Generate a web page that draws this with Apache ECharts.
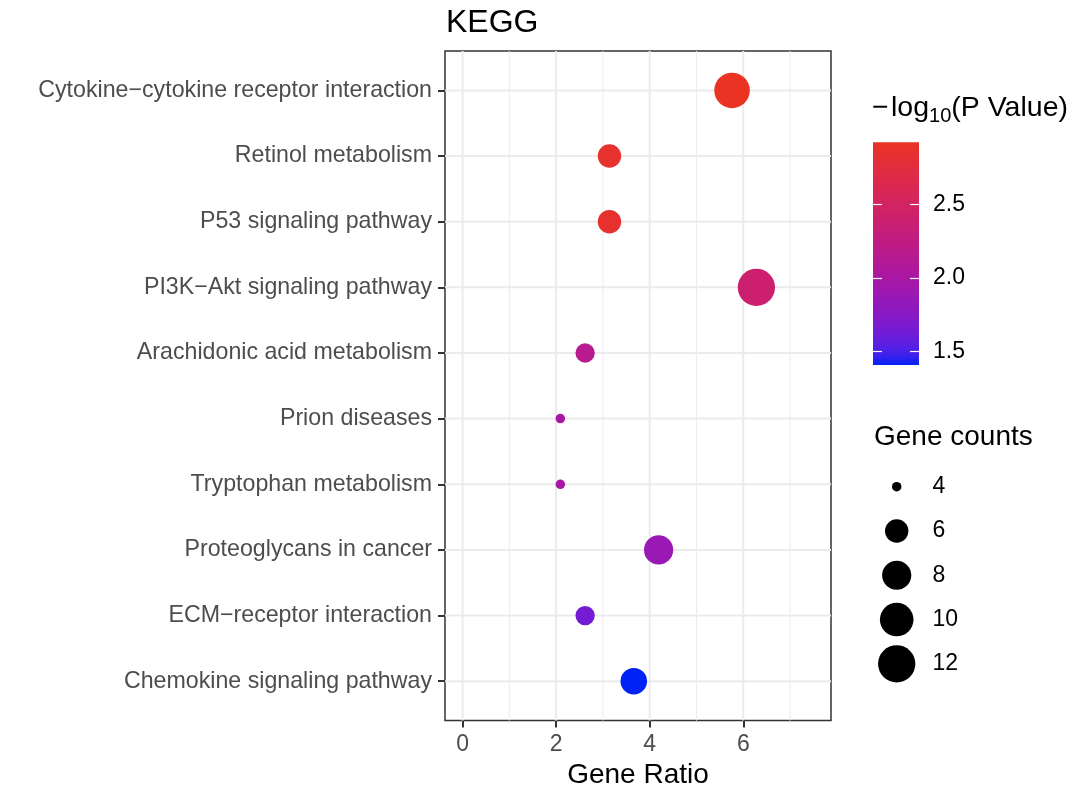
<!DOCTYPE html>
<html>
<head>
<meta charset="utf-8">
<script src="https://cdn.jsdelivr.net/npm/echarts@6/dist/echarts.min.js"></script>
<style>
html,body{margin:0;padding:0;background:#fff;}
#chart{width:1080px;height:794px;}
</style>
</head>
<body>
<div id="chart"></div>
<script>
// ---- data (top to bottom as in the chart) ----
const categories = [
  "Cytokine\u2212cytokine receptor interaction",
  "Retinol metabolism",
  "P53 signaling pathway",
  "PI3K\u2212Akt signaling pathway",
  "Arachidonic acid metabolism",
  "Prion diseases",
  "Tryptophan metabolism",
  "Proteoglycans in cancer",
  "ECM\u2212receptor interaction",
  "Chemokine signaling pathway"
];
const geneRatio  = [5.76, 3.14, 3.14, 6.28, 2.62, 2.09, 2.09, 4.19, 2.62, 3.66];
const geneCounts = [11, 6, 6, 12, 5, 4, 4, 8, 5, 7];
const negLog10P  = [2.92, 2.86, 2.85, 2.40, 2.15, 1.99, 1.99, 1.88, 1.65, 1.41];

const xTicks = [0, 2, 4, 6];
const xMinorTicks = [1, 3, 5, 7];
const colorbarTicks = [1.5, 2.0, 2.5];
const legendCounts = [4, 6, 8, 10, 12];

// ---- styling helpers ----
const F = "'Liberation Sans', Arial, Helvetica, sans-serif";
const LOW = '#0023F5', HIGH = '#EA3323';
const n = categories.length;
const yPos = categories.map((c, i) => n - 1 - i);
const cMin = Math.min(...negLog10P), cMax = Math.max(...negLog10P);
const sMin = Math.min(...legendCounts), sMax = Math.max(...legendCounts);
const dMin = 9.5, dMax = 37.3;
function sizeScale(c) {
  const t = Math.max(0, (c - sMin) / (sMax - sMin));
  return dMin + (dMax - dMin) * Math.sqrt(t);
}
// Lab interpolation (like ggplot's gradient)
function hex2rgb(h){h=h.replace('#','');return [0,2,4].map(k=>parseInt(h.substr(k,2),16));}
function lin(c){c/=255;return c<=0.04045?c/12.92:Math.pow((c+0.055)/1.055,2.4);}
function unlin(c){c=c<=0.0031308?12.92*c:1.055*Math.pow(c,1/2.4)-0.055;return Math.round(Math.max(0,Math.min(1,c))*255);}
function rgb2lab(rgb){
  const [R,G,B]=rgb.map(lin);
  const X=(0.4124*R+0.3576*G+0.1805*B)/0.95047, Y=(0.2126*R+0.7152*G+0.0722*B), Z=(0.0193*R+0.1192*G+0.9505*B)/1.08883;
  const f=t=>t>0.008856?Math.cbrt(t):7.787*t+16/116;
  const fx=f(X),fy=f(Y),fz=f(Z);
  return [116*fy-16,500*(fx-fy),200*(fy-fz)];
}
function lab2hex(lab){
  const fy=(lab[0]+16)/116, fx=fy+lab[1]/500, fz=fy-lab[2]/200;
  const fi=t=>t>0.206893?t*t*t:(t-16/116)/7.787;
  const X=fi(fx)*0.95047, Y=fi(fy), Z=fi(fz)*1.08883;
  const R= 3.2406*X-1.5372*Y-0.4986*Z, G=-0.9689*X+1.8758*Y+0.0415*Z, B=0.0557*X-0.2040*Y+1.0570*Z;
  return '#'+[R,G,B].map(v=>unlin(v).toString(16).padStart(2,'0')).join('');
}
const labLo = rgb2lab(hex2rgb(LOW)), labHi = rgb2lab(hex2rgb(HIGH));
const NSTOP = 24;
const stops = [];
for (let k = 0; k <= NSTOP; k++) {
  const t = k / NSTOP;
  stops.push(lab2hex(labLo.map((v, j) => v + (labHi[j] - v) * t)));
}

const axisText = {fontFamily: F, fontSize: 23, color: '#4D4D4D'};
const legendText = {fontFamily: F, fontSize: 23, color: '#000'};
const tickStyle = {color: '#333333', width: 2};

const chart = echarts.init(document.getElementById('chart'), null, {renderer: 'canvas'});
const option = {
  animation: false,
  backgroundColor: '#fff',
  title: [
    {text: 'KEGG', left: 446, top: 7, padding: 0, textStyle: {fontFamily: F, fontSize: 32, fontWeight: 'normal', color: '#000'}},
    {text: '{a|\u2212\u200Alog}{s|10}{a|(P Value)}', left: 872, top: 90, padding: 0,
     textStyle: {fontWeight: 'normal', rich: {
       a: {fontFamily: F, fontSize: 28.5, fontWeight: 'normal', lineHeight: 36, color: '#000'},
       s: {fontFamily: F, fontSize: 20, fontWeight: 'normal', lineHeight: 17, verticalAlign: 'bottom', color: '#000'}
     }}},
    {text: 'Gene counts', left: 874, top: 423, padding: 0, textStyle: {fontFamily: F, fontSize: 28, fontWeight: 'normal', color: '#000'}}
  ],
  grid: [
    {left: 445, top: 51, width: 386, height: 673, show: true, borderColor: '#333333', borderWidth: 1.5, backgroundColor: 'transparent'},
    {left: 873, top: 142.3, width: 46, height: 222.7},
    {left: 880, top: 464.5, width: 33.4, height: 221.5}
  ],
  xAxis: [
    {gridIndex: 0, type: 'value', min: -0.375, max: 7.875,
     axisLine: {show: false, onZero: false},
     axisTick: {show: true, customValues: xTicks, length: 7, lineStyle: tickStyle},
     axisLabel: {customValues: xTicks, margin: 12.5, ...axisText},
     splitLine: {show: false},
     name: 'Gene Ratio', nameLocation: 'middle', nameGap: 40,
     nameTextStyle: {fontFamily: F, fontSize: 28, color: '#000'}},
    {gridIndex: 1, type: 'value', min: 0, max: 1, show: false, axisLine: {onZero: false}},
    {gridIndex: 2, type: 'value', min: -1, max: 1, show: false, axisLine: {onZero: false}}
  ],
  yAxis: [
    {gridIndex: 0, type: 'value', min: -0.6, max: 9.6,
     axisLine: {show: false, onZero: false},
     axisTick: {show: true, customValues: yPos, length: 7, lineStyle: tickStyle},
     axisLabel: {customValues: yPos, margin: 13, ...axisText, fontSize: 23.2,
       formatter: v => categories[n - 1 - Math.round(v)]},
     splitLine: {show: false}},
    {gridIndex: 1, type: 'value', min: cMin, max: cMax, position: 'right', z: 10,
     axisLine: {show: false, onZero: false},
     axisTick: {show: true, inside: true, customValues: colorbarTicks, length: 9, lineStyle: {color: '#ffffff', width: 1.2}},
     axisLabel: {customValues: colorbarTicks, margin: 14, formatter: v => Number(v).toFixed(1), ...legendText},
     splitLine: {show: false}},
    {gridIndex: 1, type: 'value', min: cMin, max: cMax, position: 'left', z: 10,
     axisLine: {show: false, onZero: false},
     axisTick: {show: true, inside: true, customValues: colorbarTicks, length: 9, lineStyle: {color: '#ffffff', width: 1.2}},
     axisLabel: {show: false},
     splitLine: {show: false}},
    {gridIndex: 2, type: 'category', data: legendCounts.map(String), inverse: true, position: 'right',
     axisLine: {show: false, onZero: false}, axisTick: {show: false},
     axisLabel: {margin: 19, ...legendText},
     splitLine: {show: false}}
  ],
  visualMap: [{
    type: 'continuous', show: false, seriesIndex: 3, dimension: 2,
    min: cMin, max: cMax, inRange: {color: stops}
  }],
  series: [
    // vertical grid lines (major)
    {type: 'custom', xAxisIndex: 0, yAxisIndex: 0, z: 1, silent: true,
     data: xTicks.map(v => [v, 0]),
     renderItem: (p, api) => {
       const a = api.coord([api.value(0), -0.6]), b = api.coord([api.value(0), 9.6]);
       return {type: 'line', shape: {x1: a[0], y1: a[1], x2: b[0], y2: b[1]}, style: {stroke: '#EBEBEB', lineWidth: 2}};
     }},
    // vertical grid lines (minor)
    {type: 'custom', xAxisIndex: 0, yAxisIndex: 0, z: 1, silent: true,
     data: xMinorTicks.map(v => [v, 0]),
     renderItem: (p, api) => {
       const a = api.coord([api.value(0), -0.6]), b = api.coord([api.value(0), 9.6]);
       return {type: 'line', shape: {x1: a[0], y1: a[1], x2: b[0], y2: b[1]}, style: {stroke: '#EBEBEB', lineWidth: 1}};
     }},
    // horizontal grid lines
    {type: 'custom', xAxisIndex: 0, yAxisIndex: 0, z: 1, silent: true,
     data: yPos.map(v => [0, v]),
     renderItem: (p, api) => {
       const a = api.coord([-0.375, api.value(1)]), b = api.coord([7.875, api.value(1)]);
       return {type: 'line', shape: {x1: a[0], y1: a[1], x2: b[0], y2: b[1]}, style: {stroke: '#EBEBEB', lineWidth: 2}};
     }},
    // main points
    {type: 'scatter', xAxisIndex: 0, yAxisIndex: 0, z: 3,
     data: categories.map((c, i) => [geneRatio[i], n - 1 - i, negLog10P[i], geneCounts[i], c]),
     symbol: 'circle',
     symbolSize: v => sizeScale(v[3]),
     itemStyle: {opacity: 1}},
    // colour bar
    {type: 'custom', xAxisIndex: 1, yAxisIndex: 1, z: 2, silent: true,
     data: [[0, cMin]],
     renderItem: (p, api) => {
       const a = api.coord([0, cMax]), b = api.coord([1, cMin]);
       const cs = stops.map((c, k) => ({offset: 1 - k / NSTOP, color: c})).reverse();
       return {type: 'rect', shape: {x: a[0], y: a[1], width: b[0] - a[0], height: b[1] - a[1]},
         style: {fill: {type: 'linear', x: 0, y: 0, x2: 0, y2: 1, colorStops: cs}}};
     }},
    // size legend
    {type: 'scatter', xAxisIndex: 2, yAxisIndex: 3, z: 3, silent: true,
     data: legendCounts.map((c, i) => [0, i, c]),
     symbol: 'circle',
     symbolSize: v => sizeScale(v[2]),
     itemStyle: {color: '#000', opacity: 1}}
  ]
};
chart.setOption(option);
</script>
</body>
</html>
